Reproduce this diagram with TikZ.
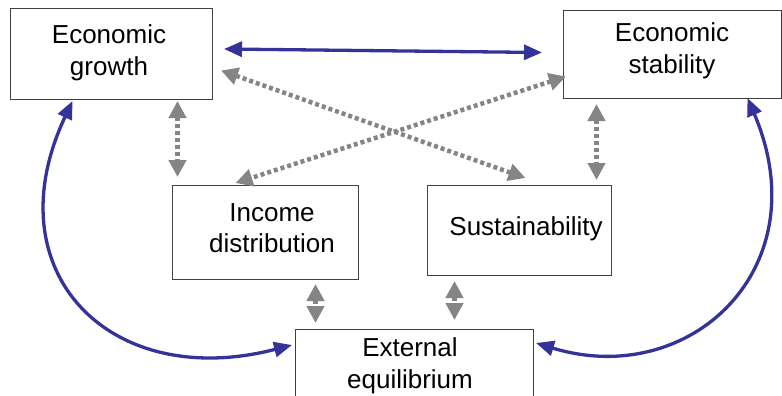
\documentclass[tikz,border=0pt]{standalone}
\usepackage{fontspec}
\setmainfont{Liberation Sans}
\usetikzlibrary{arrows.meta,calc}
\definecolor{linkblue}{HTML}{333399}
\definecolor{linkgray}{HTML}{858585}
\definecolor{boxline}{HTML}{404040}
\begin{document}
\begin{tikzpicture}[x=1pt,y=-1pt,
  box/.style={draw=boxline,line width=1pt,fill=white,rectangle,anchor=north west,inner sep=0pt},
  txt/.style={align=center,inner sep=0pt,font=\fontsize{26}{31.6}\selectfont},
  strong/.style={draw=linkblue,line width=3.3pt,{Triangle[length=18pt,width=15pt]}-{Triangle[length=18pt,width=15pt]}},
  weak/.style={draw=linkgray,line width=4.5pt,dash pattern=on 4pt off 3pt,{Triangle[length=17pt,width=17pt]}-{Triangle[length=17pt,width=17pt]}}]
\useasboundingbox (0,0) rectangle (782,396);
\clip (0,0) rectangle (782,396);

% boxes
\node[box,minimum width=202pt,minimum height=91pt] (eg) at (10,8) {};
\node[box,minimum width=218pt,minimum height=88pt] (es) at (563,10) {};
\node[box,minimum width=186pt,minimum height=94pt] (id) at (172,185) {};
\node[box,minimum width=184pt,minimum height=90pt] (su) at (427,185) {};
\node[box,minimum width=238pt,minimum height=100pt] (ee) at (295,329) {};

% labels
\node[txt] (egT) at (109,53) {Economic\\growth};
\node[txt] (esT) at (672,51) {Economic\\stability};
\node[txt] (idT) at (272,228) {Income\\distribution};
\node[txt] (suT) at (526,229) {Sustainability};
\node[txt] (eeT) at (410,366) {External\\equilibrium};

% strong links
\draw[strong] ($(eg.east)+(11,-5)$) -- ($(es.west)+(-21,-2)$);
\draw[strong] ($(eg.south)+(-39,1)$) .. controls (-8,272) and (110,392) .. ($(ee.north west)+(-3,16)$);
\draw[strong] ($(es.south)+(75,-1)$) .. controls (820,268) and (690,390) .. ($(ee.north east)+(2,14)$);

% weak links
\draw[weak] ($(eg.east)+(8,16.5)$) -- ($(su.north)+(6,-7)$);
\draw[weak] ($(es.west)+(3,22)$) -- ($(id.north)+(-30,-2)$);
\draw[weak] ($(eg.south)+(66,1)$) -- ($(id.north)+(-88,-8)$);
\draw[weak] ($(es.south)+(-76,5)$) -- ($(su.north)+(77,-5)$);
\draw[weak] ($(id.south)+(50,4)$) -- ($(ee.north)+(-99,-6)$);
\draw[weak] ($(su.south)+(-65,5)$) -- ($(ee.north)+(40,-9)$);
\end{tikzpicture}
\end{document}
